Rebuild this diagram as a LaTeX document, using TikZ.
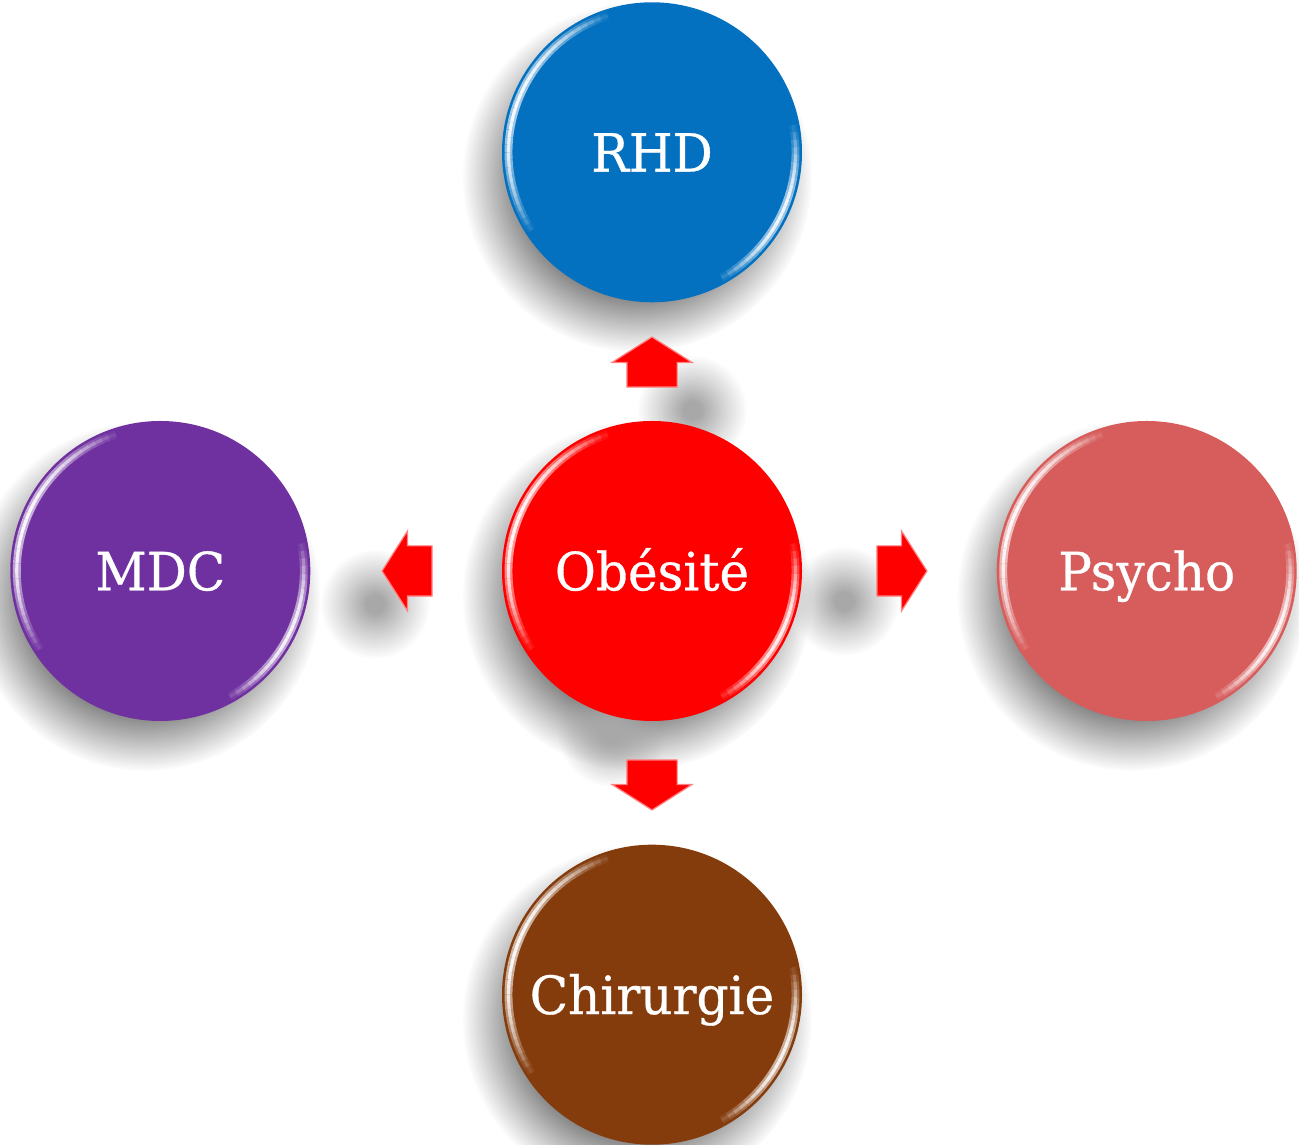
\documentclass[tikz,border=0pt]{standalone}
\usepackage{fontspec}
\setmainfont[FakeStretch=0.95, FakeBold=0.6]{DejaVu Serif}
\usetikzlibrary{positioning, calc, shapes.arrows, fadings, backgrounds}

\definecolor{rhdblue}{RGB}{3,113,192}
\definecolor{obesred}{RGB}{255,0,0}
\definecolor{mdcpurple}{RGB}{112,49,160}
\definecolor{psyrose}{RGB}{214,93,92}
\definecolor{chirbrown}{RGB}{132,60,13}

% soft round fadings for the drop shadows
\pgfdeclareradialshading{softdiscshading}{\pgfpointorigin}{color(0bp)=(white); color(17bp)=(white); color(21bp)=(gray); color(25bp)=(black); color(50bp)=(black)}
\pgfdeclarefading{softdisc}{\pgfuseshading{softdiscshading}}
\pgfdeclareradialshading{softblobshading}{\pgfpointorigin}{color(0bp)=(white); color(4bp)=(white); color(14bp)=(gray); color(25bp)=(black); color(50bp)=(black)}
\pgfdeclarefading{softblob}{\pgfuseshading{softblobshading}}

\begin{document}
\begin{tikzpicture}[
node distance=2.36cm,
ball/.style={
	circle,
	minimum size=6cm,
	inner sep=0pt,
	text=white,
	font=\fontsize{30}{36}\selectfont,
	text height=22pt,
	text depth=0pt
},
blockarrow/.style={
	single arrow,
	anchor=tail,
	fill=red,
	draw=red!50!white,
	line width=0.7pt,
	inner xsep=0pt,
	inner ysep=0.49cm,
	minimum height=1cm,
	minimum width=1.58cm,
	single arrow head extend=0.3cm,
	single arrow tip angle=115
},
softshadow/.style={
	fill=black!48,
	path fading=softdisc
},
blobshadow/.style={
	fill=black!34,
	path fading=softblob
},
rim/.style={
	line cap=butt,
	opacity=#1
}
]
\useasboundingbox (0,0) rectangle (25.98,22.9);

% Circles
\node [ball, fill=obesred] (obes) at (13.04,11.48) {Obésité};
\node [ball, fill=rhdblue, above=of obes] (rhd) {RHD};
\node [ball, fill=chirbrown, below=2.46cm of obes] (chir) {Chirurgie};
\node [ball, fill=mdcpurple, left=3.82cm of obes] (mdc) {MDC};
\node [ball, fill=psyrose, right=3.88cm of obes] (psy) {Psycho};

% Block arrows pointing away from the centre
\node [blockarrow, rotate=90] (up) at ($(obes.north)+(0,0.66)$) {};
\node [blockarrow, rotate=270] (down) at ($(obes.south)+(0,-0.76)$) {};
\node [blockarrow, rotate=180] (left) at ($(obes.west)+(-1.38,0)$) {};
\node [blockarrow] (right) at ($(obes.east)+(1.48,0)$) {};

% Drop shadows
\begin{pgfonlayer}{background}
\foreach \n in {obes, rhd, chir, mdc, psy}
	\fill [softshadow] ($(\n)+(-0.3,-0.5)$) circle (3.5cm);
\fill [blobshadow] ($(up)+(0.8,-0.8)$) circle (1.1cm);
\fill [blobshadow] ($(down)+(-0.8,0.9)$) circle (1.1cm);
\fill [blobshadow] ($(left)+(-0.8,-0.66)$) circle (1.1cm);
\fill [blobshadow] ($(right)+(-1,-0.6)$) circle (1.1cm);
\end{pgfonlayer}

% Glossy rims
\foreach \n/\c in {rhd/rhdblue, obes/obesred, mdc/mdcpurple, psy/psyrose, chir/chirbrown} {
	\foreach \a [evaluate=\a as \op using 0.9*sin((\a-105)*1.666)] in {105,108,...,210} {
		\draw [\c!30!white, rim=\op, line width=4.5pt] (\n.center) ++(\a:2.87cm) arc [start angle=\a, end angle=\a+3, radius=2.87cm];
		\draw [white, rim=\op, line width=1.8pt] (\n.center) ++(\a:2.87cm) arc [start angle=\a, end angle=\a+3, radius=2.87cm];
	}
	\foreach \a [evaluate=\a as \op using 0.85*sin((\a+64)*2.43)] in {-64,-61,...,8} {
		\draw [\c!30!white, rim=\op, line width=4.5pt] (\n.center) ++(\a:2.87cm) arc [start angle=\a, end angle=\a+3, radius=2.87cm];
		\draw [white, rim=\op, line width=1.8pt] (\n.center) ++(\a:2.87cm) arc [start angle=\a, end angle=\a+3, radius=2.87cm];
	}
}

\end{tikzpicture}
\end{document}
